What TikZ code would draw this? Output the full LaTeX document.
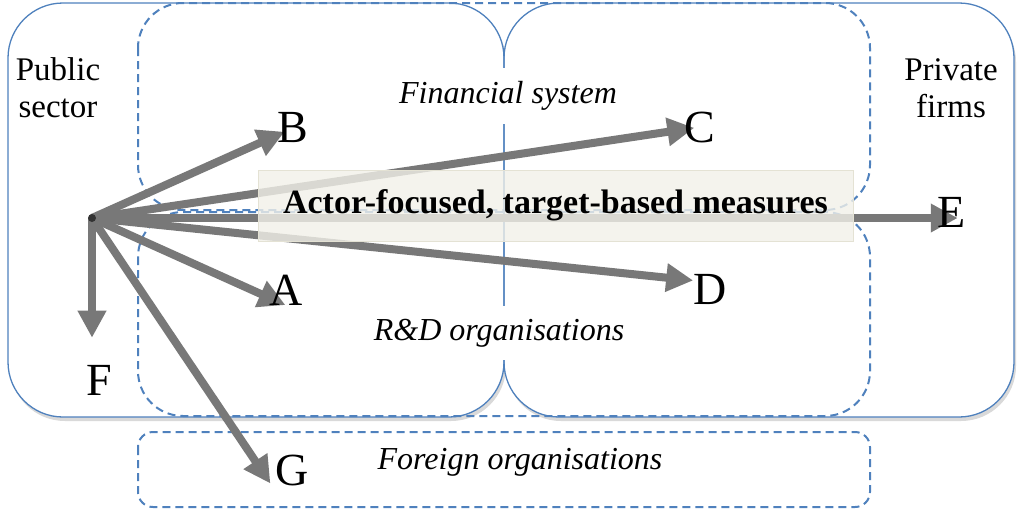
\documentclass[tikz,border=0pt]{standalone}
\usepackage{fontspec}
\setmainfont{Liberation Serif}
\usetikzlibrary{arrows.meta,shadows,positioning}

\definecolor{frameblue}{RGB}{79,129,189}
\definecolor{flowgray}{RGB}{120,120,120}
\definecolor{measurefill}{RGB}{242,241,233}
\definecolor{measureline}{RGB}{228,226,212}

\pgfdeclarelayer{background}
\pgfsetlayers{background,main}

\tikzset{
sector/.style = {draw=frameblue, line width=1.3pt, rounded corners=55pt},
group/.style = {draw=frameblue, line width=2pt, dash pattern=on 8pt off 5pt, rounded corners=#1},
group/.default = 45pt,
flow/.style = {draw=flowgray, line width=8pt, -{Triangle[length=27pt,width=27pt]}},
target/.style = {font=\fontsize{46}{50}\selectfont, inner sep=2pt},
sidelabel/.style = {align=center, font=\fontsize{33}{37}\selectfont},
grouplabel/.style = {fill=white, font=\fontsize{32}{36}\selectfont\itshape, inner xsep=2pt, inner ysep=13pt},
measure/.style = {draw=measureline, line width=1pt, fill=measurefill, fill opacity=0.8, text opacity=1,
  minimum width=595pt, minimum height=71pt, font=\fontsize{34}{38}\selectfont\bfseries}
}

\begin{document}
\begin{tikzpicture}[x=1pt, y=-1pt]
    \useasboundingbox (0,0) rectangle (1019,512);

    % actors and groups
    \node [sidelabel] (public) at (58,88) {Public\\sector};
    \node [sidelabel] (private) at (951,88) {Private\\firms};
    \node [grouplabel] (finance) at (508,96) {Financial system};
    \node [grouplabel] (rnd) at (499,333) {R\&D organisations};
    \node [grouplabel, fill=none] (foreign) at (520,462) {Foreign organisations};
    \node [measure] (measures) at (555.5,205.5) {Actor-focused, target-based measures};

    % targets of the measures
    \coordinate (hub) at (92,218);
    \node [target] (B) at (293,128) {B};
    \node [target] (C) at (700,127) {C};
    \node [target] (E) at (952,212) {E};
    \node [target] (D) at (710,289) {D};
    \node [target] (A) at (286,290) {A};
    \node [target] (F) at (99,380) {F};
    \node [target] (G) at (292,470) {G};

    \begin{pgfonlayer}{background}
    \fill [white, rounded corners=55pt, drop shadow={opacity=0.3, shadow xshift=2pt, shadow yshift=-4pt}] (8,3) rectangle (504,417);
    \fill [white, rounded corners=55pt, drop shadow={opacity=0.3, shadow xshift=2pt, shadow yshift=-4pt}] (504,3) rectangle (1014,417);
    \draw [sector] (8,3) rectangle (504,417);
    \draw [sector] (504,3) rectangle (1014,417);

    \draw [group] (138,3) rectangle (870,210);
    \draw [group] (138,212) rectangle (870,416);
    \draw [group=15pt] (138,432) rectangle (870,507);

    \draw [flow, shorten >=-10pt] (hub) -- (B);
    \draw [flow, shorten >=-12pt] (hub) -- (C);
    \draw [flow, shorten >=-2pt] (hub) -- (D.155);
    \draw [flow, shorten >=-20pt] (hub) -- (A.200);
    \draw [flow, shorten >=-22pt] (hub) -- (hub -| E.west);
    \draw [flow, shorten >=25pt] (hub) -- (hub |- F.north);
    \draw [flow, shorten >=5pt] (hub) -- (G.south west);
    \fill [black!80] (hub) circle (4pt);
    \end{pgfonlayer}
\end{tikzpicture}
\end{document}
